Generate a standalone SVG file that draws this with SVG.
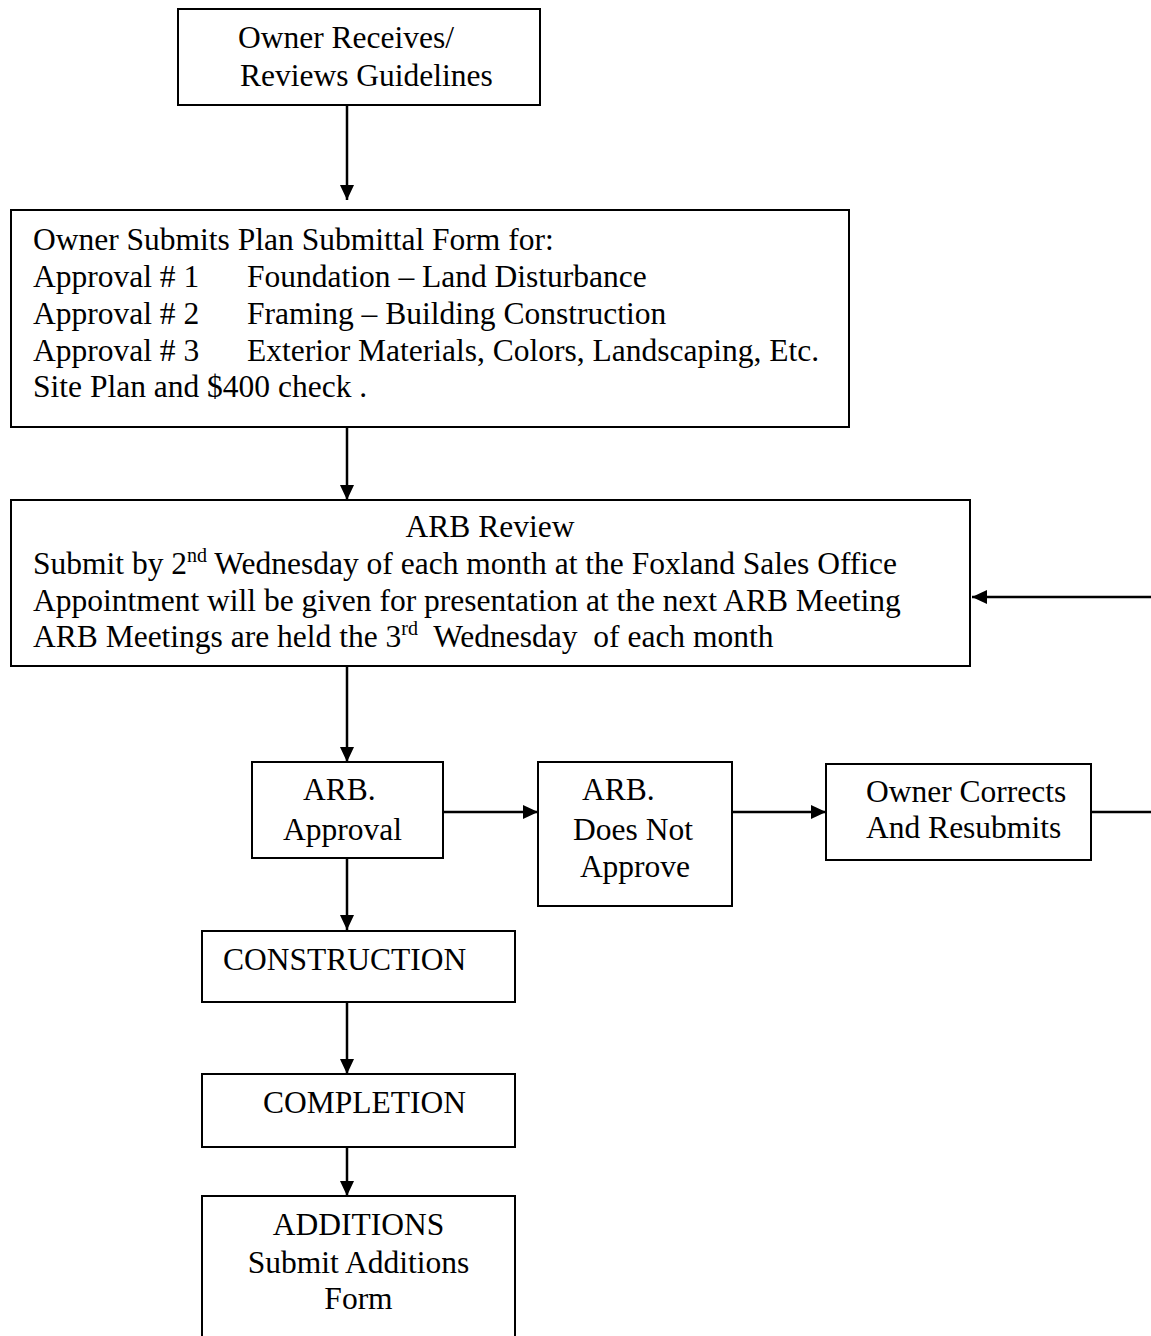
<svg xmlns="http://www.w3.org/2000/svg" width="1151" height="1336" viewBox="0 0 1151 1336">
<style>
.box{fill:#fff;stroke:#000;stroke-width:2}
.t{font-family:"Liberation Serif","Times New Roman",serif;font-size:31.5px;fill:#000;white-space:pre}
.c{text-anchor:middle}
.sup{font-size:20px}
.conn{fill:none;stroke:#000;stroke-width:2.5}
</style>
<defs>
<marker id="ah" markerUnits="userSpaceOnUse" markerWidth="16" markerHeight="14" refX="15" refY="7" orient="auto">
<path d="M0,0 L15,7 L0,14 z" fill="#000"/>
</marker>
</defs>
<rect width="1151" height="1336" fill="#fff"/>
<g id="connectors">
<path class="conn" d="M347,105 V200" marker-end="url(#ah)"/>
<path class="conn" d="M347,427 V500" marker-end="url(#ah)"/>
<path class="conn" d="M347,666 V762" marker-end="url(#ah)"/>
<path class="conn" d="M443,812 H538" marker-end="url(#ah)"/>
<path class="conn" d="M732,812 H826" marker-end="url(#ah)"/>
<path class="conn" d="M1091,812 H1158 V597 H972" marker-end="url(#ah)"/>
<path class="conn" d="M347,858 V930" marker-end="url(#ah)"/>
<path class="conn" d="M347,1002 V1074" marker-end="url(#ah)"/>
<path class="conn" d="M347,1147 V1196" marker-end="url(#ah)"/>
</g>
<g id="n-guidelines">
<rect class="box" x="178" y="9" width="362" height="96"/>
<text class="t" x="238" y="48">Owner Receives/</text>
<text class="t" x="240" y="86">Reviews Guidelines</text>
</g>
<g id="n-submit">
<rect class="box" x="11" y="210" width="838" height="217"/>
<text class="t" x="33" y="250">Owner Submits Plan Submittal Form for:</text>
<text class="t" x="33" y="287">Approval # 1</text>
<text class="t" x="247" y="287">Foundation – Land Disturbance</text>
<text class="t" x="33" y="324">Approval # 2</text>
<text class="t" x="247" y="324">Framing – Building Construction</text>
<text class="t" x="33" y="361">Approval # 3</text>
<text class="t" x="247" y="361">Exterior Materials, Colors, Landscaping, Etc.</text>
<text class="t" x="33" y="397">Site Plan and $400 check .</text>
</g>
<g id="n-review">
<rect class="box" x="11" y="500" width="959" height="166"/>
<text class="t c" x="490" y="537">ARB Review</text>
<text class="t" x="33" y="574">Submit by 2<tspan class="sup" dy="-12">nd</tspan><tspan dy="12"> Wednesday of each month at the Foxland Sales Office</tspan></text>
<text class="t" x="33" y="611">Appointment will be given for presentation at the next ARB Meeting</text>
<text class="t" x="33" y="647">ARB Meetings are held the 3<tspan class="sup" dy="-12">rd</tspan><tspan dy="12">  Wednesday  of each month</tspan></text>
</g>
<g id="n-approval">
<rect class="box" x="252" y="762" width="191" height="96"/>
<text class="t" x="303" y="800">ARB.</text>
<text class="t" x="283" y="840">Approval</text>
</g>
<g id="n-notapprove">
<rect class="box" x="538" y="762" width="194" height="144"/>
<text class="t" x="582" y="800">ARB.</text>
<text class="t c" x="633" y="840">Does Not</text>
<text class="t c" x="635" y="877">Approve</text>
</g>
<g id="n-corrects">
<rect class="box" x="826" y="764" width="265" height="96"/>
<text class="t" x="866" y="802">Owner Corrects</text>
<text class="t" x="866" y="838">And Resubmits</text>
</g>
<g id="n-construction">
<rect class="box" x="202" y="931" width="313" height="71"/>
<text class="t" x="223" y="970">CONSTRUCTION</text>
</g>
<g id="n-completion">
<rect class="box" x="202" y="1074" width="313" height="73"/>
<text class="t" x="263" y="1113">COMPLETION</text>
</g>
<g id="n-additions">
<rect class="box" x="202" y="1196" width="313" height="150"/>
<text class="t c" x="358.5" y="1235">ADDITIONS</text>
<text class="t c" x="358.5" y="1273">Submit Additions</text>
<text class="t c" x="358.5" y="1309">Form</text>
</g>
</svg>
